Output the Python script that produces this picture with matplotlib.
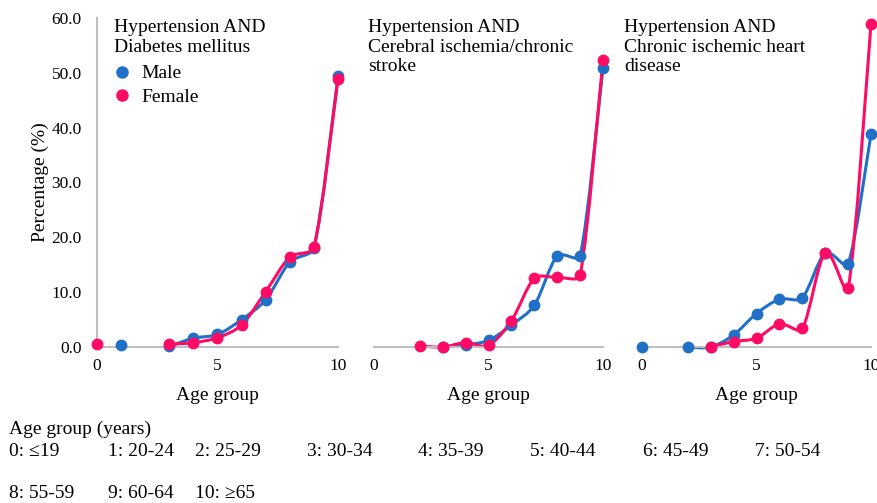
import matplotlib.pyplot as plt
import numpy as np
from matplotlib.path import Path
from matplotlib.patches import PathPatch
from matplotlib.lines import Line2D

plt.rcParams['font.family'] = ['Liberation Serif', 'DejaVu Serif']

# datos (NaN = sin dato)
nan = np.nan
grupos = np.arange(11)
titulos = ["Hypertension AND\nDiabetes mellitus",
           "Hypertension AND\nCerebral ischemia/chronic\nstroke",
           "Hypertension AND\nChronic ischemic heart\ndisease"]
hombres_dm = [nan, 0.4, nan, 0.1, 1.6, 2.3, 5.0, 8.6, 15.5, 18.1, 49.4]
mujeres_dm = [0.6, nan, nan, 0.5, 0.8, 1.7, 4.0, 10.1, 16.4, 18.2, 48.8]
hombres_acv = [nan, nan, nan, 0.0, 0.4, 1.2, 4.0, 7.6, 16.6, 16.6, 50.9]
mujeres_acv = [nan, nan, 0.2, 0.0, 0.8, 0.3, 4.8, 12.5, 12.7, 13.1, 52.4]
hombres_ci = [0.0, nan, 0.0, 0.0, 2.2, 6.1, 8.7, 9.0, 17.1, 15.2, 38.8]
mujeres_ci = [nan, nan, nan, 0.0, 1.0, 1.6, 4.2, 3.4, 17.1, 10.7, 58.9]
series = [(hombres_dm, mujeres_dm), (hombres_acv, mujeres_acv), (hombres_ci, mujeres_ci)]

etiquetas_edad = ["0: \u226419", "1: 20-24", "2: 25-29", "3: 30-34", "4: 35-39",
                  "5: 40-44", "6: 45-49", "7: 50-54", "8: 55-59", "9: 60-64", "10: \u226565"]

AZUL = '#1F70C6'
ROSA = '#FF0A64'
GRIS = '#BFBFBF'
FS = 14


def limitar(v, largo):
    n = np.hypot(*v)
    tope = largo / 3.0
    return v * (tope / n) if n > tope else v


def curva_suave(ax, x, y, color):
    # lineas suavizadas tipo Excel, calculadas en pixeles, por tramos sin huecos
    x = np.asarray(x, float)
    y = np.asarray(y, float)
    ok = ~np.isnan(y)
    tramos, actual = [], []
    for i in range(len(x)):
        if ok[i]:
            actual.append(i)
        else:
            if actual:
                tramos.append(actual)
            actual = []
    if actual:
        tramos.append(actual)
    for t in tramos:
        if len(t) < 2:
            continue
        p = ax.transData.transform(np.column_stack([x[t], y[t]]))
        verts = [p[0]]
        codes = [Path.MOVETO]
        n = len(p)
        for k in range(n - 1):
            p0 = p[k - 1] if k > 0 else p[k]
            p1 = p[k]
            p2 = p[k + 1]
            p3 = p[k + 2] if k + 2 < n else p[k + 1]
            largo = np.hypot(*(p2 - p1))
            c1 = p1 + limitar((p2 - p0) / 6.0, largo)
            c2 = p2 - limitar((p3 - p1) / 6.0, largo)
            verts += [c1, c2, p2]
            codes += [Path.CURVE4] * 3
        verts = ax.transData.inverted().transform(np.array(verts))
        ax.add_patch(PathPatch(Path(verts, codes), fill=False, edgecolor=color,
                               lw=2.2, clip_on=False, capstyle='round', joinstyle='round'))


fig = plt.figure(figsize=(8.78, 5.03), dpi=100)
W, H = 878, 503
cajas = [(97, 241), (374, 229), (642, 229)]
pos_titulo = [0.07, -0.025, -0.077]
y0, y1 = 347, 18

for j, (izq, ancho) in enumerate(cajas):
    ax = fig.add_axes([izq / W, 1 - y0 / H, ancho / W, (y0 - y1) / H])
    ax.set_xlim(0, 10)
    ax.set_ylim(0, 60)
    h, m = series[j]
    curva_suave(ax, grupos, h, AZUL)
    ax.plot(grupos, h, 'o', color=AZUL, ms=7.5, clip_on=False, zorder=3)
    curva_suave(ax, grupos, m, ROSA)
    ax.plot(grupos, m, 'o', color=ROSA, ms=7.5, clip_on=False, zorder=4)

    ax.set_xticks([0, 5, 10])
    ax.tick_params(length=0, labelsize=12.5, pad=8)
    for s in ['top', 'right']:
        ax.spines[s].set_visible(False)
    ax.spines['bottom'].set_color(GRIS)
    ax.spines['bottom'].set_linewidth(1.5)
    if j == 0:
        ax.spines['left'].set_color(GRIS)
        ax.spines['left'].set_linewidth(1.5)
        ax.set_yticks(np.arange(0, 61, 10))
        ax.set_yticklabels([f"{v:.1f}" for v in np.arange(0, 61, 10)])
        ax.tick_params(axis='y', pad=11)
        ax.set_ylabel("Percentage (%)", fontsize=FS, labelpad=2)
        leyenda = [Line2D([], [], ls='none', marker='o', color=AZUL, ms=8, label='Male'),
                   Line2D([], [], ls='none', marker='o', color=ROSA, ms=8, label='Female')]
        ax.legend(handles=leyenda, loc='upper left', bbox_to_anchor=(0.065, 0.858),
                  frameon=False, fontsize=FS, borderpad=0, borderaxespad=0,
                  handlelength=1.0, handletextpad=0.5, labelspacing=0.3)
    else:
        ax.spines['left'].set_visible(False)
        ax.set_yticks([])
    ax.set_xlabel("Age group", fontsize=FS, labelpad=9)
    ax.text(pos_titulo[j], 0.997, titulos[j], transform=ax.transAxes, fontsize=FS,
            va='top', ha='left', linespacing=1.2)

# leyenda de grupos de edad
fig.text(9 / W, 1 - 429 / H, "Age group (years)", fontsize=FS, va='center')
columnas = [9, 108, 195, 307, 418, 530, 643, 755]
for i, txt in enumerate(etiquetas_edad):
    fila_y = 451 if i < 8 else 494
    cx = columnas[i % 8]
    fig.text(cx / W, 1 - fila_y / H, txt, fontsize=FS, va='center')

fig.savefig('out.png', dpi=100)
